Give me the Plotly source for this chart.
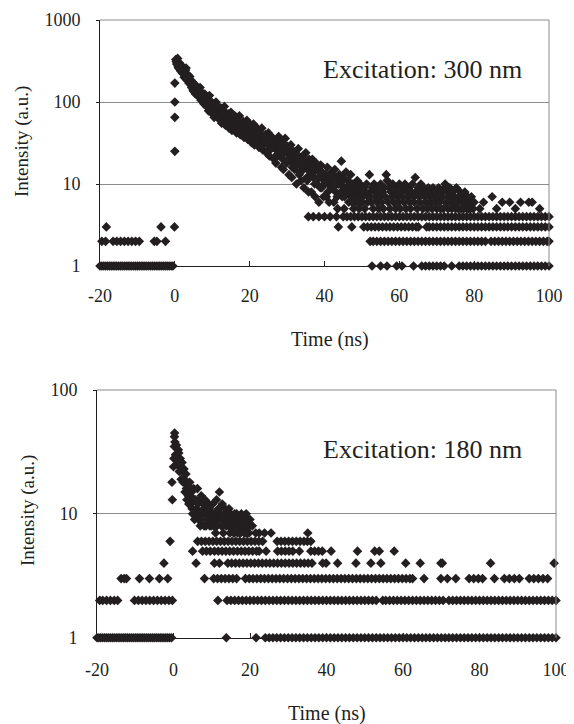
import plotly.graph_objects as go

# ------------------------------------------------------------------
# Excitation 300 nm (upper panel)
# times (ns) of points that sit on each integer count level
# ------------------------------------------------------------------
top_c1 = [-20, -19.5, -19, -18.5, -18, -17.5, -17, -16.5, -16, -15.5, -15, -14.5, -14, -13.5, -13,
          -12.5, -12, -11.5, -11, -10.5, -10, -9.5, -9, -8.5, -8, -7.5, -7, -6.5, -6, -5.5, -5, -4.5,
          -4, -3.5, -3, -2.5, -2, -1.5, -1, -0.5,
          52.7, 55, 56.7, 59.3, 60.7, 63.8, 66, 67, 68, 69, 70, 71, 72, 74, 76, 77, 78, 79, 80, 81, 82,
          83, 84, 85, 86, 87, 88, 89, 90, 91, 92, 93, 94, 95, 96, 97, 98, 99, 100]
top_c2 = [-19.5, -18.5, -16.5, -15.5, -14.5, -13.5, -12.5, -11.5, -10.5, -9.5, -5.5, -4.8, -2.5,
          52.2, 53, 54, 55, 56, 57, 58, 59, 60, 61, 62, 63, 64, 65, 66, 67, 68, 69, 70, 71, 72, 73,
          74, 75, 76, 77, 78, 79, 80, 81, 82, 83, 84.5, 85.5, 86.5, 87.5, 88.5, 89.5, 90.5, 91.5,
          92.5, 93.5, 94.5, 95.5, 96.5, 97.5, 98.5, 99.5, 100]
top_c3 = [-18.3, -3.7, -0.1,
          43.7, 47.3, 50.5, 51.5, 52.5, 53.5, 54.5, 55.5, 56.5, 57.5, 58.5, 59.5, 60.5, 61.5, 62.5,
          63.5, 64.5, 65.1, 67.3, 68, 69, 70, 71, 72, 73, 74, 75, 76, 77, 78, 79, 80, 81, 82, 83, 84,
          85, 86, 87, 88, 89, 90, 91, 92, 93, 94, 95, 96, 97, 98, 99, 100]
top_c4 = [35.7, 37, 38.5, 40, 41.5, 43.2, 45, 46, 47, 48, 49, 50, 51, 52, 53, 54, 55, 56, 57, 58,
          59, 60, 61, 62, 63, 64, 65, 66, 67, 68, 69, 70, 71, 72, 73, 74, 75, 76, 77, 78, 79, 80, 81,
          82, 83, 84, 85, 86, 87, 88, 89, 90, 91, 92, 93, 94, 95, 96, 97, 98, 99, 100]

# points on the rising edge at t = 0
top_spike_t = [0, 0, 0, 0]
top_spike_c = [25, 65, 100, 170]

# decay, one count per 0.25 ns channel from 0.25 ns to 50 ns
top_band_start = 0.25
top_band_step = 0.25
top_band_counts = [
    330, 290, 340, 260, 300, 240, 280, 225,
    250, 200, 230, 260, 185, 215, 170, 205,
    185, 150, 175, 135, 165, 125, 155, 140,
    145, 115, 150, 105, 130, 120, 95, 125,
    115, 88, 105, 78, 120, 82, 100, 72,
    95, 65, 88, 100, 70, 82, 62, 78,
    85, 55, 78, 62, 88, 52, 70, 60,
    72, 48, 65, 75, 45, 60, 52, 68,
    66, 42, 58, 48, 68, 40, 55, 45,
    58, 37, 52, 44, 60, 35, 48, 40,
    52, 32, 45, 54, 30, 42, 36, 48,
    46, 28, 40, 33, 48, 26, 38, 31,
    40, 24, 35, 42, 22, 30, 27, 37,
    36, 20, 30, 18, 34, 25, 38, 22,
    32, 16, 27, 15, 24, 36, 19, 29,
    28, 13, 22, 30, 12, 18, 25, 15,
    24, 10, 19, 27, 13, 21, 11, 16,
    22, 9, 17, 24, 12, 15, 8, 19,
    16, 8, 20, 12, 14, 7, 18, 10,
    15, 6, 12, 17, 9, 13, 7, 11,
    13, 7, 16, 10, 6, 12, 9, 14,
    11, 6, 15, 8, 12, 5, 10, 13,
    10, 19, 7, 12, 5, 9, 14, 8,
    11, 6, 9, 13, 7, 10, 5, 8,
    9, 6, 11, 7, 5, 10, 8, 6,
]
# second detector pass, 0.5 ns channels from 0.375 ns to 49.875 ns
top_fill_start = 0.375
top_fill_step = 0.5
top_fill_counts = [
    310, 270, 250, 235,
    220, 245, 195, 180,
    170, 140, 160, 130,
    135, 110, 125, 100,
    98, 110, 85, 92,
    85, 72, 90, 68,
    70, 80, 58, 65,
    62, 55, 68, 50,
    52, 60, 46, 50,
    48, 41, 55, 38,
    44, 36, 40, 33,
    36, 42, 30, 35,
    32, 26, 38, 28,
    28, 32, 23, 27,
    25, 20, 29, 18,
    20, 24, 16, 21,
    17, 22, 14, 19,
    15, 18, 11, 20,
    13, 16, 10, 15,
    12, 9, 14, 10,
    11, 8, 13, 9,
    9, 12, 7, 10,
    8, 11, 7, 9,
    8, 10, 6, 9,
    7, 9, 6, 8,
]
# slow tail, one count per 0.25 ns channel from 50.25 ns to 80 ns
top_tail_start = 50.25
top_tail_step = 0.25
top_tail_counts = [
    7, 9, 5, 8, 10, 6, 7, 13,
    8, 6, 9, 5, 10, 7, 8, 6,
    9, 5, 7, 10, 6, 8, 5, 9,
    7, 13, 11, 6, 9, 5, 8, 7,
    10, 6, 8, 5, 9, 7, 6, 10,
    5, 8, 7, 9, 6, 10, 5, 8,
    7, 9, 6, 5, 8, 10, 7, 6,
    12, 8, 5, 9, 7, 6, 10, 8,
    5, 9, 7, 6, 8, 5, 9, 7,
    6, 8, 5, 9, 7, 6, 8, 5,
    7, 9, 6, 5, 8, 7, 5, 9,
    10, 6, 8, 5, 7, 9, 6, 5,
    8, 6, 7, 5, 9, 6, 5, 7,
    8, 5, 6, 7, 5, 8, 6, 5,
    7, 5, 6, 5, 7, 6, 5, 6,
]
top_late_t = [81.5, 82.5, 84.8, 86, 87.5, 89.5, 91, 92.4, 94.6, 95.5, 97.5]
top_late_c = [5, 6, 7, 5, 6, 6, 5, 6, 6, 6, 5]

# ------------------------------------------------------------------
# Excitation 180 nm (lower panel)
# ------------------------------------------------------------------
bot_c1 = [-20, -19.5, -19, -18.5, -18, -17.5, -17, -16.5, -16, -15.5, -15, -14.5, -14, -13.5, -13,
          -12.5, -12, -11.5, -11, -10.5, -10, -9.5, -9, -8.5, -8, -7.5, -7, -6.5, -6, -5.5, -5, -4.5,
          -4, -3.5, -3, -2.5, -2, -1.5, -1, -0.5,
          13.8, 21.6, 24, 25, 26, 27, 28, 29, 30, 31, 32, 33, 34, 35, 36, 37, 38, 39, 40, 41, 42, 43,
          44, 45, 46, 47, 48, 49, 50, 51, 52, 53, 54, 55, 56, 57, 58, 59, 60, 61, 62, 63, 64, 65, 66,
          67, 68, 69, 70, 71, 72, 73, 74, 75, 76, 77, 78, 79, 80, 81, 82, 83, 84, 85, 86, 87, 88, 89,
          90, 91, 92, 93, 94, 95, 96, 97, 98, 99, 100]
bot_c2 = [-19.3, -18.5, -17.5, -16.5, -15.5, -14.6, -10.2, -9.2, -8.2, -7.2, -6.2, -5.2, -4.2, -3.2,
          -2.2, -1.2, -0.3,
          11.6, 14, 15, 16, 17, 18, 19, 20, 21, 22, 23, 24, 25, 26, 27, 28, 29, 30, 31, 32, 33, 34,
          35, 36, 37, 38, 39, 40, 41, 42, 43, 44, 45, 46, 47, 48, 49, 50, 51, 52, 53,
          54.7, 55.5, 56.5, 57.5, 58.5, 59.5, 60.5, 61.5, 62.5, 63.5, 64.5, 65.5, 66.5, 67.5, 68.5,
          69.5, 70.5, 72, 73, 74, 75, 76, 77, 78, 79, 80, 81, 82, 83, 84, 85, 86, 87, 88, 89, 90, 91,
          92, 93, 94, 95, 96, 97, 98, 99, 100]
bot_c3 = [-13.7, -12.9, -12.3, -8.9, -6.3, -3.7, -1.5,
          8.1, 10.5, 11.5, 12.5, 13.5, 14.5, 15.5, 16.5, 18.8, 19.8, 20.8, 21.8, 22.8, 23.8, 24.8,
          25.8, 26.8, 27.8, 28.8, 29.8, 30.8, 31.8, 32.8, 33.8, 34.8, 35.8, 36.8, 37.8, 38.8, 39.8,
          40.8, 41.8, 42.8, 43.8, 44.8, 45.8, 46.8, 47.8, 48.8, 49.8, 50.8, 51.8, 52.8, 53.8, 54.8,
          55.8, 56.8, 57.8, 58.8, 59.8, 60.8, 61.8, 62.5, 65.5, 69.9, 71.6, 73.8, 77.3, 78.5, 79.7,
          80.8, 83.9, 86.5, 87.8, 89.1, 90.4, 93, 94.2, 95.4, 96.6, 97.8]
bot_c4 = [-2.5, 5.9, 10.7, 12, 14.2, 15.2, 16.2, 17.2, 18.2, 19.2, 20.2, 21.2, 22.2, 23.2, 24.2,
          25.2, 26.2, 27.2, 28.2, 29.2, 30.2, 31.2, 32.2, 33.2, 34.2, 35.2, 36.2, 39, 39.9, 42.9,
          47.7, 51.6, 54.2, 60.7, 64.5, 69.9, 70.3, 82.9, 99.5]
bot_c5 = [5, 7.6, 8.6, 9.6, 10.7, 11.7, 12.7, 13.7, 14.7, 15.7, 16.7, 17.7, 18.7, 19.7, 20.7,
          21.7, 22.4, 24.2, 27.2, 28.2, 29.2, 30.2, 31.2, 32.9, 35.9, 36.9, 37.9, 38.9, 41.2, 48.1,
          52.6, 53.8, 57.7]
bot_c6 = [-0.9, 6.3, 7.3, 8.3, 9.3, 10.3, 11.3, 12.3, 13.3, 14.3, 15.3, 16.3, 17.3, 18.3, 19.3,
          20.3, 21.3, 22.3, 23.3, 27.1, 28.1, 29.1, 30.1, 31.1, 32.1, 33.1, 34.1, 35, 35.9]

# rising edge and a few scattered higher points
bot_extra_t = [-0.4, -0.3, 0, 0.1, 0.2, 0.3, 20.6, 21.5, 22.4, 23.8, 25.5, 35.1]
bot_extra_c = [18, 13, 24, 28, 35, 45, 8, 7, 7, 7, 7, 7]

# decay, one count per 0.25 ns channel from 0.25 ns to 20 ns
bot_band_start = 0.25
bot_band_step = 0.25
bot_band_counts = [
    42, 30, 36, 25, 33, 22, 28, 19,
    26, 18, 23, 15, 21, 13, 17, 12,
    18, 12, 15, 10, 16, 9, 13, 11,
    16, 9, 13, 8, 14, 10, 12, 8,
    13, 8, 11, 9, 12, 8, 10, 9,
    12, 8, 10, 7, 13, 9, 11, 15,
    10, 8, 12, 7, 9, 11, 8, 10,
    9, 11, 7, 10, 8, 9, 7, 10,
    8, 10, 7, 9, 8, 7, 10, 8,
    9, 7, 8, 10, 7, 8, 7, 9,
]
# second pass, 0.5 ns channels from 0.375 ns to 19.875 ns
bot_fill_start = 0.375
bot_fill_step = 0.5
bot_fill_counts = [
    38, 27, 31, 24,
    22, 19, 16, 14,
    14, 11, 13, 10,
    12, 10, 9, 11,
    10, 9, 11, 8,
    10, 9, 8, 11,
    9, 8, 10, 9,
    8, 9, 8, 7,
    9, 8, 7, 8,
    8, 7, 9, 8,
]

x_ticks = [-20, 0, 20, 40, 60, 80, 100]
x_tick_text = ['-20', '0', '20', '40', '60', '80', '100']


def collect(levels, pairs, channel_sets):
    # gather (time, count) points of one panel
    xs, ys = [], []
    for count, times in levels:
        xs += times
        ys += [count] * len(times)
    for times, counts in pairs:
        xs += times
        ys += counts
    for start, step, counts in channel_sets:
        xs += [start + i * step for i in range(len(counts))]
        ys += counts
    return xs, ys


top_x, top_y = collect(
    [(1, top_c1), (2, top_c2), (3, top_c3), (4, top_c4)],
    [(top_spike_t, top_spike_c), (top_late_t, top_late_c)],
    [(top_band_start, top_band_step, top_band_counts),
     (top_fill_start, top_fill_step, top_fill_counts),
     (top_tail_start, top_tail_step, top_tail_counts)])

bot_x, bot_y = collect(
    [(1, bot_c1), (2, bot_c2), (3, bot_c3), (4, bot_c4), (5, bot_c5), (6, bot_c6)],
    [(bot_extra_t, bot_extra_c)],
    [(bot_band_start, bot_band_step, bot_band_counts),
     (bot_fill_start, bot_fill_step, bot_fill_counts)])

FONT = 'Liberation Serif, Times New Roman, serif'
INK = '#231f20'
GRID = '#8c8c8c'
# the page adds an 8 px body margin, so layout is laid out in page pixels minus 8
OFF = 8
W, H = 574 - OFF, 724 - OFF


def px(x):
    return (x - OFF) / W


def py(y):
    return 1 - (y - OFF) / H


marker = dict(symbol='diamond', size=7.4, color=INK, line=dict(width=0))

fig = go.Figure()
fig.add_trace(go.Scatter(x=top_x, y=top_y, mode='markers', marker=marker,
                         cliponaxis=False, xaxis='x', yaxis='y', showlegend=False))
fig.add_trace(go.Scatter(x=bot_x, y=bot_y, mode='markers', marker=marker,
                         cliponaxis=False, xaxis='x2', yaxis='y2', showlegend=False))

xaxis_common = dict(
    range=[-20, 100], tickvals=x_ticks, ticktext=x_tick_text,
    ticks='inside', ticklen=5, tickcolor=INK, tickwidth=1,
    showline=True, linecolor=INK, linewidth=1,
    showgrid=False, zeroline=False, automargin=False,
    tickfont=dict(family=FONT, size=18, color=INK),
)
yaxis_common = dict(
    type='log', showgrid=True, gridcolor=GRID, gridwidth=1,
    ticks='outside', ticklen=3, tickcolor=INK, tickwidth=1,
    showline=True, linecolor=INK, linewidth=1,
    zeroline=False, automargin=False,
    tickfont=dict(family=FONT, size=18, color=INK), ticklabelstandoff=12,
)

fig.update_layout(
    width=W, height=H,
    margin=dict(l=0, r=0, t=0, b=0),
    paper_bgcolor='white', plot_bgcolor='white',
    xaxis=dict(domain=[px(100), px(549)], anchor='y', ticklabelstandoff=13, **xaxis_common),
    yaxis=dict(domain=[py(266), py(20)], anchor='x', range=[0, 3],
               tickvals=[1, 10, 100, 1000], ticktext=['1', '10', '100', '1000'], **yaxis_common),
    xaxis2=dict(domain=[px(97), px(556)], anchor='y2', ticklabelstandoff=16, **xaxis_common),
    yaxis2=dict(domain=[py(637.7), py(390)], anchor='x2', range=[0, 2],
                tickvals=[1, 10, 100], ticktext=['1', '10', '100'], **yaxis_common),
)

# grey frame on top and right of each panel
for xa, ya in [('x', 'y'), ('x2', 'y2')]:
    fig.add_shape(type='line', xref=xa + ' domain', yref=ya + ' domain',
                  x0=0, x1=1, y0=1, y1=1, line=dict(color=GRID, width=1))
    fig.add_shape(type='line', xref=xa + ' domain', yref=ya + ' domain',
                  x0=1, x1=1, y0=0, y1=1, line=dict(color=GRID, width=1))

# texts
labels = [
    ('Excitation: 300 nm', 422, 70, 26, 0),
    ('Excitation: 180 nm', 422, 449, 26, 0),
    ('Time (ns)', 330, 339, 20, 0),
    ('Time (ns)', 327, 713, 20, 0),
    ('Intensity (a.u.)', 22, 142, 19, -90),
    ('Intensity (a.u.)', 28, 511, 19, -90),
]
for text, x, y, size, angle in labels:
    fig.add_annotation(text=text, x=px(x), y=py(y), xref='paper', yref='paper',
                       xanchor='center', yanchor='middle', showarrow=False,
                       textangle=angle, font=dict(family=FONT, size=size, color=INK))

fig.write_html("out.html")
